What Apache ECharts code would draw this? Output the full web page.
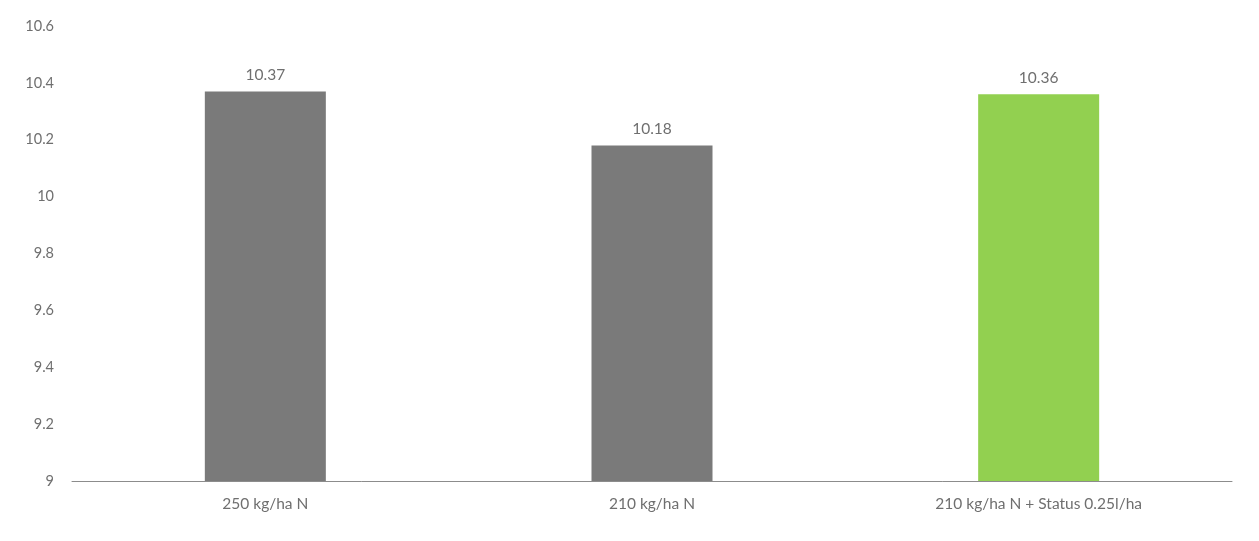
<!DOCTYPE html>
<html>
<head>
<meta charset="utf-8">
<script src="https://cdn.jsdelivr.net/npm/echarts@6/dist/echarts.min.js"></script>
<style>
  html, body { margin: 0; padding: 0; background: #fff; }
  #chart { width: 1259px; height: 541px; }
</style>
</head>
<body>
<div id="chart"></div>
<script>
const categories = ['250 kg/ha N', '210 kg/ha N', '210 kg/ha N + Status 0.25l/ha']
const values = [10.37, 10.18, 10.36]
const barColors = ['#7a7a7a', '#7a7a7a', '#92d050']

const chart = echarts.init(document.getElementById('chart'))
chart.setOption({
  animation: false,
  textStyle: { fontFamily: 'Lato' },
  grid: { left: 72, right: 27, top: 26, bottom: 60, containLabel: false },
  xAxis: {
    type: 'category',
    data: categories,
    axisLine: { lineStyle: { color: '#8c8c8c', width: 1 } },
    axisTick: { show: false },
    axisLabel: { color: '#6f6f6f', fontSize: 15.5, margin: 15 }
  },
  yAxis: {
    type: 'value',
    min: 9,
    max: 10.6,
    interval: 0.2,
    splitLine: { show: false },
    axisLine: { show: false },
    axisTick: { show: false },
    axisLabel: {
      color: '#6f6f6f',
      fontSize: 14.5,
      margin: 18,
      formatter: v => String(Math.round(v * 10) / 10)
    }
  },
  series: [{
    type: 'bar',
    barWidth: 121,
    data: values.map((v, i) => ({ value: v, itemStyle: { color: barColors[i] } })),
    label: {
      show: true,
      position: 'top',
      distance: 8,
      color: '#6f6f6f',
      fontSize: 15.5
    }
  }]
})
</script>
</body>
</html>
